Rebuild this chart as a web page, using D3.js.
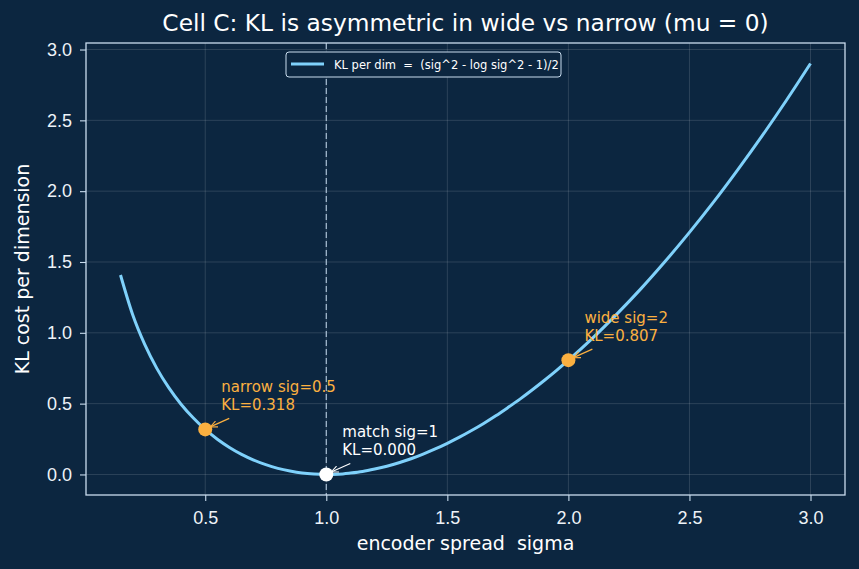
<!DOCTYPE html>
<html>
<title>KL asymmetry</title>
<style>
  body {
    margin: 0px;
    background: #0c2640;
  }
  svg {
    display: block;
    font-family: "DejaVu Sans", sans-serif;
  }
  .grid line {
    stroke: #ffffff;
    stroke-opacity: 0.17;
    stroke-width: 0.8;
  }
  .axis path, .axis line {
    stroke: #c9dcee;
    stroke-width: 1.1;
  }
  .axis text {
    fill: #eef3f8;
    font-size: 18px;
  }
</style>
<script src="https://cdn.jsdelivr.net/npm/d3@7"></script>
<body>
<svg></svg>
<script>

// sigma samples and KL per dimension
const sigmas = [0.15, 0.20, 0.25, 0.30, 0.35, 0.40, 0.45, 0.50, 0.55, 0.60, 0.65, 0.70, 0.75, 0.80,
  0.85, 0.90, 0.95, 1.00, 1.05, 1.10, 1.15, 1.20, 1.25, 1.30, 1.35, 1.40, 1.45, 1.50, 1.55, 1.60,
  1.65, 1.70, 1.75, 1.80, 1.85, 1.90, 1.95, 2.00, 2.10, 2.20, 2.30, 2.40, 2.50, 2.60, 2.70, 2.80,
  2.90, 3.00];
const klValues = [1.408, 1.129, 0.918, 0.749, 0.611, 0.496, 0.400, 0.318, 0.249, 0.191, 0.142, 0.102,
  0.069, 0.043, 0.024, 0.010, 0.003, 0.000, 0.002, 0.010, 0.021, 0.038, 0.058, 0.083, 0.111, 0.144,
  0.180, 0.220, 0.263, 0.310, 0.360, 0.414, 0.472, 0.532, 0.596, 0.663, 0.733, 0.807, 0.963, 1.132,
  1.312, 1.505, 1.709, 1.924, 2.152, 2.390, 2.640, 2.901];

// highlighted points
const markSigma = [0.5, 1.0, 2.0];
const markKL = [0.318, 0.000, 0.807];
const markLines = [["narrow sig=0.5", "KL=0.318"], ["match sig=1", "KL=0.000"], ["wide sig=2", "KL=0.807"]];
const markColor = ["#fbb040", "#ffffff", "#fbb040"];

const xTicks = [0.5, 1.0, 1.5, 2.0, 2.5, 3.0];
const yTicks = [0.0, 0.5, 1.0, 1.5, 2.0, 2.5, 3.0];

const titleText = "Cell C: KL is asymmetric in wide vs narrow (mu = 0)";
const xLabel = "encoder spread  sigma";
const yLabel = "KL cost per dimension";
const legendText = "KL per dim  =  (sig^2 - log sig^2 - 1)/2";

const W = 859, H = 569;
const mLeft = 86, mRight = 845, mTop = 43, mBottom = 495;

const svg = d3.select("svg").attr("width", W).attr("height", H);
svg.append("rect").attr("width", W).attr("height", H).attr("fill", "#0c2640");

// matplotlib-like 5% margins
const xs = d3.extent(sigmas), ys = d3.extent(klValues);
const xPad = (xs[1] - xs[0]) * 0.05, yPad = (ys[1] - ys[0]) * 0.05;

const x = d3.scaleLinear()
    .domain([xs[0] - xPad, xs[1] + xPad])
    .range([mLeft, mRight]);

const y = d3.scaleLinear()
    .domain([ys[0] - yPad, ys[1] + yPad])
    .range([mBottom, mTop]);

// grid
const grid = svg.append("g").attr("class", "grid");
grid.selectAll(".vx").data(xTicks).enter().append("line")
    .attr("x1", d => x(d)).attr("x2", d => x(d))
    .attr("y1", mTop).attr("y2", mBottom);
grid.selectAll(".hy").data(yTicks).enter().append("line")
    .attr("x1", mLeft).attr("x2", mRight)
    .attr("y1", d => y(d)).attr("y2", d => y(d));

// dashed reference at sigma = 1
svg.append("line")
    .attr("x1", x(1)).attr("x2", x(1))
    .attr("y1", mTop).attr("y2", mBottom)
    .attr("stroke", "#a9bfd4")
    .attr("stroke-width", 1.2)
    .attr("stroke-dasharray", "6,3");

// axes
const xAxis = svg.append("g")
    .attr("class", "axis")
    .attr("transform", "translate(0," + mBottom + ")")
    .call(d3.axisBottom(x).tickValues(xTicks).tickFormat(d3.format(".1f")).tickSize(6).tickPadding(10));
const yAxis = svg.append("g")
    .attr("class", "axis")
    .attr("transform", "translate(" + mLeft + ",0)")
    .call(d3.axisLeft(y).tickValues(yTicks).tickFormat(d3.format(".1f")).tickSize(6).tickPadding(8));
xAxis.select(".domain").remove();
yAxis.select(".domain").remove();

svg.append("rect")
    .attr("x", mLeft).attr("y", mTop)
    .attr("width", mRight - mLeft).attr("height", mBottom - mTop)
    .attr("fill", "none")
    .attr("stroke", "#c9dcee")
    .attr("stroke-width", 1.3);

// curve
const line = d3.line()
    .curve(d3.curveMonotoneX)
    .x((d, i) => x(sigmas[i]))
    .y(d => y(d));

svg.append("path")
    .datum(klValues)
    .attr("d", line)
    .attr("fill", "none")
    .attr("stroke", "#7fd1fb")
    .attr("stroke-width", 3);

// arrow heads
const defs = svg.append("defs");
markColor.forEach((c, i) => {
  defs.append("marker")
      .attr("id", "arr" + i)
      .attr("viewBox", "0 -5 10 10")
      .attr("refX", 9).attr("refY", 0)
      .attr("markerWidth", 8).attr("markerHeight", 8)
      .attr("markerUnits", "userSpaceOnUse")
      .attr("orient", "auto")
    .append("path")
      .attr("d", "M0,-4L9,0L0,4")
      .attr("fill", "none")
      .attr("stroke", c)
      .attr("stroke-width", 1.3);
});

// annotations
markSigma.forEach((s, i) => {
  const px = x(s), py = y(markKL[i]);
  svg.append("line")
      .attr("x1", px + 24).attr("y1", py - 11)
      .attr("x2", px + 5).attr("y2", py - 2.5)
      .attr("stroke", markColor[i])
      .attr("stroke-width", 1.2)
      .attr("marker-end", "url(#arr" + i + ")");
  const t = svg.append("text")
      .attr("fill", markColor[i])
      .attr("font-size", "15px");
  t.append("tspan").attr("x", px + 16).attr("y", py - 37).text(markLines[i][0]);
  t.append("tspan").attr("x", px + 16).attr("y", py - 19.5).text(markLines[i][1]);
});

svg.selectAll(".mark").data(markSigma).enter().append("circle")
    .attr("cx", d => x(d))
    .attr("cy", (d, i) => y(markKL[i]))
    .attr("r", 7)
    .attr("fill", (d, i) => markColor[i]);

// legend
const lg = svg.append("g").attr("transform", "translate(286,52)");
lg.append("rect")
    .attr("width", 275).attr("height", 25).attr("rx", 3)
    .attr("fill", "#0c2640")
    .attr("stroke", "#c9dcee")
    .attr("stroke-width", 1);
lg.append("line")
    .attr("x1", 5).attr("x2", 38).attr("y1", 12).attr("y2", 12)
    .attr("stroke", "#7fd1fb").attr("stroke-width", 3);
lg.append("text")
    .attr("x", 48).attr("y", 16.5)
    .attr("fill", "#ffffff")
    .attr("font-size", "11.5px")
    .style("white-space", "pre")
    .text(legendText);

// title and labels
svg.append("text")
    .attr("x", (mLeft + mRight) / 2).attr("y", 31)
    .attr("text-anchor", "middle")
    .attr("fill", "#ffffff")
    .attr("font-size", "23.3px")
    .text(titleText);

svg.append("text")
    .attr("x", (mLeft + mRight) / 2).attr("y", 550)
    .attr("text-anchor", "middle")
    .attr("fill", "#ffffff")
    .attr("font-size", "19px")
    .style("white-space", "pre")
    .text(xLabel);

svg.append("text")
    .attr("transform", "translate(29," + (mTop + mBottom) / 2 + ") rotate(-90)")
    .attr("text-anchor", "middle")
    .attr("fill", "#ffffff")
    .attr("font-size", "19px")
    .text(yLabel);
</script>
</body>
</html>
